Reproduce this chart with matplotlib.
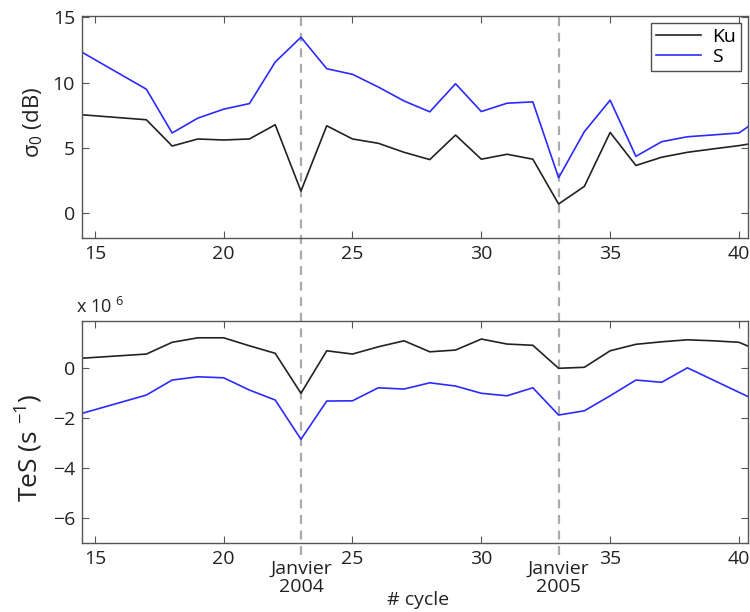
import matplotlib
matplotlib.use("Agg")
import matplotlib.pyplot as plt
from matplotlib.lines import Line2D
import numpy as np

plt.rcParams['font.family'] = ['Open Sans', 'DejaVu Sans']
plt.rcParams['mathtext.fontset'] = 'custom'
plt.rcParams['mathtext.rm'] = 'Open Sans'
plt.rcParams['mathtext.it'] = 'Open Sans'

# Data
cycles = [14, 17, 18, 19, 20, 21, 22, 23, 24, 25, 26, 27, 28, 29, 30, 31, 32, 33, 34, 35, 36, 37, 38, 39, 40, 41]
sigma_ku = [7.62, 7.16, 5.15, 5.69, 5.61, 5.69, 6.78, 1.70, 6.70, 5.69, 5.36, 4.67, 4.11, 5.99, 4.14, 4.52, 4.14, 0.71,
            2.06, 6.19, 3.66, 4.29, 4.67, 4.93, 5.18, 5.5]
sigma_s = [12.9, 9.5, 6.15, 7.29, 7.97, 8.4, 11.58, 13.48, 11.07, 10.64, 9.67, 8.6, 7.77, 9.92, 7.79, 8.43, 8.53, 2.72,
           6.25, 8.66, 4.36, 5.48, 5.86, 6.0, 6.15, 7.5]
tes_ku = [0.36, 0.56, 1.03, 1.21, 1.21, 0.89, 0.59, -1.01, 0.69, 0.56, 0.85, 1.09, 0.65, 0.72, 1.16, 0.96, 0.91, -0.01,
          0.03, 0.69, 0.95, 1.05, 1.13, 1.09, 1.03, 0.6]
tes_s = [-1.96, -1.08, -0.48, -0.35, -0.39, -0.88, -1.28, -2.85, -1.32, -1.31, -0.79, -0.84, -0.59, -0.72, -1.01, -1.11,
         -0.79, -1.88, -1.71, -1.11, -0.48, -0.57, 0.01, -0.48, -0.97, -1.46]
event_cycles = [23, 33]
event_labels = ["Janvier\n2004", "Janvier\n2005"]
xticks = [15, 20, 25, 30, 35, 40]

KU_COLOR = '#222222'
S_COLOR = '#2b2bff'
SPINE = '#555555'
TXT = '#222222'

fig = plt.figure(figsize=(7.5, 6.12), dpi=100)
ax1 = fig.add_axes([0.1093, 0.611, 0.888, 0.3627])
ax2 = fig.add_axes([0.1093, 0.1127, 0.888, 0.3627])

ax1.plot(cycles, sigma_ku, color=KU_COLOR, lw=1.2, label='Ku')
ax1.plot(cycles, sigma_s, color=S_COLOR, lw=1.2, label='S')
ax2.plot(cycles, tes_ku, color=KU_COLOR, lw=1.2)
ax2.plot(cycles, tes_s, color=S_COLOR, lw=1.2)

for ax in (ax1, ax2):
    ax.set_facecolor('none')
    ax.set_xlim(14.5, 40.35)
    ax.set_xticks(xticks)
    ax.tick_params(direction='in', top=True, right=True, labelsize=14, length=5,
                   color=SPINE, labelcolor=TXT, pad=5)
    for s in ax.spines.values():
        s.set_color(SPINE)
        s.set_linewidth(1.0)

ax1.set_ylim(-1.9, 15.1)
ax1.set_yticks([0, 5, 10, 15])
ax2.set_ylim(-7, 1.88)
ax2.set_yticks([-6, -4, -2, 0])
ax2.set_yticklabels(['\u22126', '\u22124', '\u22122', '0'])

ax1.set_ylabel(r'$\sigma_0$ (dB)', fontsize=16, color=TXT)
ax1.yaxis.set_label_coords(-0.056, 0.52)
ax2.set_ylabel(r'TeS (s $^{-1}$)', fontsize=19, color=TXT)
ax2.yaxis.set_label_coords(-0.056, 0.43)
fig.text(0.101, 0.489, r'x 10 $^{6}$', fontsize=13, color=TXT)

leg = ax1.legend(loc='upper right', fontsize=14, frameon=True, fancybox=False,
                 borderaxespad=0.35, handlelength=2.3, borderpad=0.25, labelspacing=0.1,
                 handletextpad=0.6)
leg.get_frame().set_edgecolor(TXT)
leg.get_frame().set_linewidth(1.0)

# dashed event lines spanning both panels
for c, lab in zip(event_cycles, event_labels):
    xf = fig.transFigure.inverted().transform(ax1.transData.transform((c, 0)))[0]
    fig.add_artist(Line2D([xf, xf], [0.1127 - 0.02, 0.611 + 0.3627], transform=fig.transFigure,
                          color='#aaaaaa', lw=1.6, ls=(0, (4, 3)), zorder=-1))
    ax2.text(c, -0.075, lab, transform=ax2.get_xaxis_transform(), ha='center', va='top',
             fontsize=14, color=TXT, linespacing=1.0)

fig.text(0.558, 0.005, '# cycle', ha='center', va='bottom', fontsize=14, color=TXT)

fig.savefig('out.png', dpi=100)
